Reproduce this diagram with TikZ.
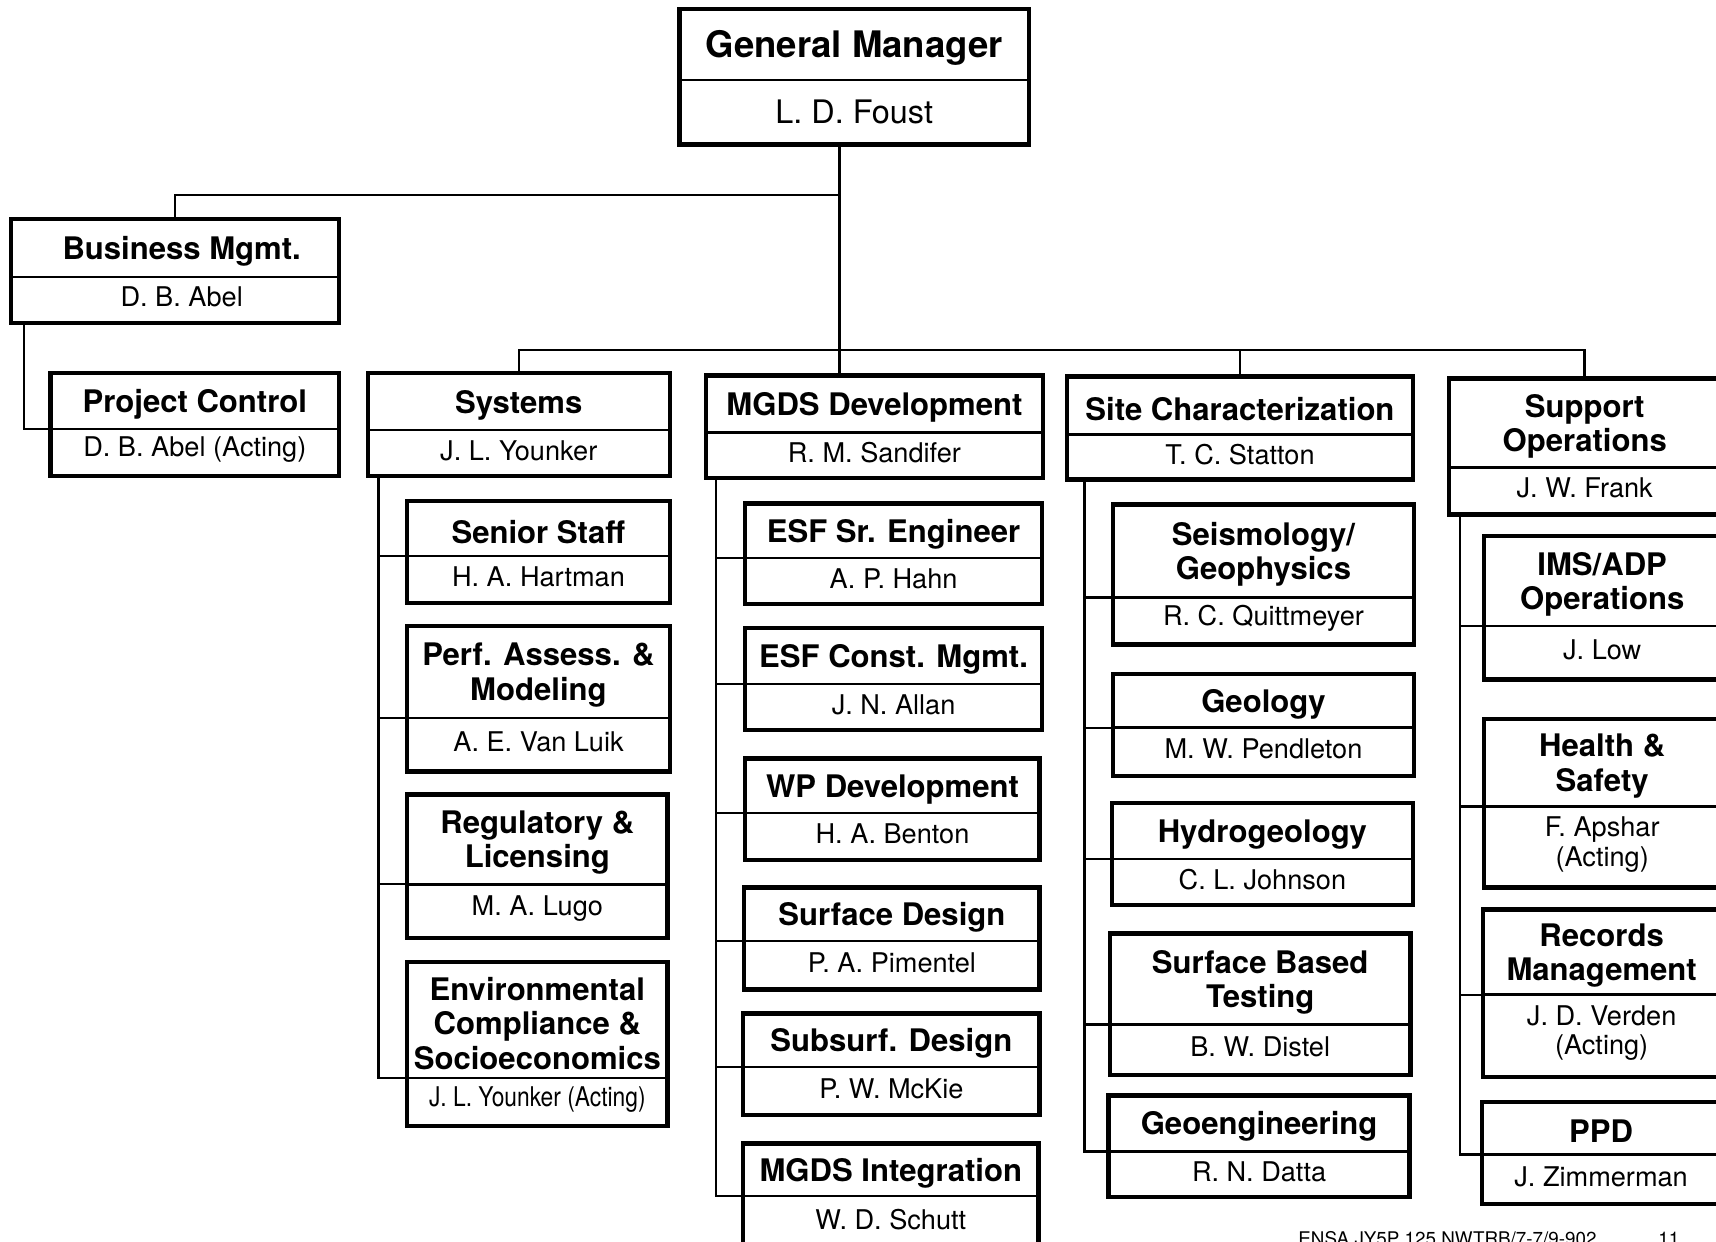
\documentclass[tikz,border=0pt]{standalone}
\usepackage{fontspec}
\setmainfont{TeX Gyre Heros}
\usetikzlibrary{fit,calc}
\tikzset{
  obox/.style={draw, line width=2pt, inner sep=0pt, rectangle},
  divline/.style={line width=1.2pt},
  conn/.style={line width=1.1pt},
  ttl/.style={font=\bfseries\fontsize{14.2}{15.8}\selectfont, align=center, inner sep=0pt, yshift=-1.5pt},
  nme/.style={font=\fontsize{12.4}{13.5}\selectfont, align=center, inner sep=0pt, yshift=1.2pt},
  ttlgm/.style={font=\bfseries\fontsize{16.7}{18}\selectfont, align=center, inner sep=0pt, yshift=-1.5pt},
  nmegm/.style={font=\fontsize{14.8}{16}\selectfont, align=center, inner sep=0pt},
  foot/.style={font=\fontsize{8.6}{10}\selectfont, inner sep=0pt, anchor=base west}
}
% #1 style suffix, #2 name, #3 x1, #4 y1, #5 x2, #6 y2, #7 divider y, #8 title, #9 person
\newcommand\orgbox[9][]{%
  \node[obox, fit={(#3,#4) (#5,#6)}] (#2) {};
  \coordinate (#2d) at (#3,#7);
  \draw[divline] (#3,#7) -- (#5,#7);
  \node[ttl#1] (#2t) at ({(#3+#5)/2},{(#4+#7)/2}) {#8};
  \node[nme#1] (#2n) at ({(#3+#5)/2},{(#7+#6)/2}) {#9};
}
\begin{document}
\begin{tikzpicture}[x=0.5pt, y=-0.5pt]
\useasboundingbox (0,0) rectangle (1568,1134);
\fill[white] (0,0) rectangle (1568,1134);

% top level
\orgbox[gm]{gm}{621}{8}{940}{132}{73}{General Manager}{L. D. Foust}
\orgbox{bus}{10}{200}{310}{295}{253}{\hspace*{6pt}Business Mgmt.}{\hspace*{6pt}D. B. Abel}
\orgbox{pc}{46}{341}{310}{435}{392}{Project Control}{D. B. Abel (Acting)}
\orgbox{sys}{336}{341}{612}{435}{393}{Systems}{J. L. Younker}
\orgbox{mgds}{645}{343}{953}{437}{395}{MGDS Development}{R. M. Sandifer}
\orgbox{site}{975}{344}{1291}{438}{397}{Site Characterization}{T. C. Statton}
\orgbox{sup}{1324}{346}{1572}{470}{427}{Support\\Operations}{J. W. Frank}

% Systems
\orgbox{ss}{372}{458}{612}{551}{508}{Senior Staff}{H. A. Hartman}
\orgbox{pa}{372}{572}{612}{705}{656}{Perf. Assess. \&\\Modeling}{A. E. Van Luik}
\orgbox{rl}{372}{726}{610}{857}{808}{Regulatory \&\\Licensing}{M. A. Lugo}
\orgbox{ec}{372}{879}{610}{1029}{985}{Environmental\\Compliance \&\\Socioeconomics}{\scalebox{0.84}[1]{J. L. Younker (Acting)}}

% MGDS Development
\orgbox{esfe}{681}{460}{952}{552}{510}{ESF Sr. Engineer}{A. P. Hahn}
\orgbox{esfc}{681}{574}{952}{667}{625}{ESF Const. Mgmt.}{J. N. Allan}
\orgbox{wp}{681}{693}{950}{786}{743}{WP Development}{H. A. Benton}
\orgbox{sd}{680}{811}{950}{904}{860}{Surface Design}{P. A. Pimentel}
\orgbox{sub}{679}{926}{950}{1019}{975}{Subsurf. Design}{P. W. McKie}
\orgbox{mi}{679}{1045}{949}{1140}{1093}{MGDS Integration}{W. D. Schutt}

% Site Characterization
\orgbox{seis}{1017}{461}{1292}{589}{546}{Seismology/\\Geophysics}{R. C. Quittmeyer}
\orgbox{geo}{1017}{616}{1292}{709}{665}{Geology}{M. W. Pendleton}
\orgbox{hyd}{1016}{734}{1291}{827}{785}{Hydrogeology}{C. L. Johnson}
\orgbox{sbt}{1014}{853}{1289}{982}{936}{Surface Based\\Testing}{B. W. Distel}
\orgbox{geoe}{1013}{1001}{1288}{1094}{1052}{Geoengineering}{R. N. Datta}

% Support Operations
\orgbox{ims}{1356}{490}{1572}{621}{572}{IMS/ADP\\Operations}{J. Low}
\orgbox{hs}{1356}{657}{1572}{811}{737}{Health \&\\Safety}{F. Apshar\\(Acting)}
\orgbox{rm}{1355}{831}{1572}{984}{909}{Records\\Management}{J. D. Verden\\(Acting)}
\orgbox{ppd}{1354}{1007}{1572}{1100}{1055}{PPD}{J. Zimmerman}

% connectors: top
\coordinate (j1) at (767,178);
\coordinate (j2) at (767,320);
\draw[conn] (gm.south -| j1) -- (j2);
\draw[conn] (j1) -| (bus.north);
\draw[conn] (sys.north) |- (j2) -| (sup.north);
\draw[conn] (j2) -- (j2 |- mgds.north);
\draw[conn] (site.north |- j2) -- (site.north);

% Business -> Project Control
\coordinate (bustr) at ($(bus.south west)+(14,0)$);
\draw[conn] (bustr) |- (pcd);

% Systems trunk
\coordinate (systr) at ($(sys.south west)+(12,0)$);
\draw[conn] (systr) |- (ecd);
\foreach \c in {ssd,pad,rld} \draw[conn] (systr |- \c) -- (\c);

% MGDS trunk
\coordinate (mgdstr) at ($(mgds.south west)+(11,0)$);
\draw[conn] (mgdstr) |- (mid);
\foreach \c in {esfed,esfcd,wpd,sdd,subd} \draw[conn] (mgdstr |- \c) -- (\c);

% Site trunk
\coordinate (sitetr) at ($(site.south west)+(18,0)$);
\draw[conn] (sitetr) |- (geoed);
\foreach \c in {seisd,geod,hydd,sbtd} \draw[conn] (sitetr |- \c) -- (\c);

% Support trunk
\coordinate (suptr) at ($(sup.south west)+(12,0)$);
\draw[conn] (suptr) |- (ppdd);
\foreach \c in {imsd,hsd,rmd} \draw[conn] (suptr |- \c) -- (\c);

% footer
\node[foot] (footid) at (1186,1138) {ENSA JY5P 125 NWTRB/7-7/9-902};
\node[foot] (footpg) at (1515,1138) {11};
\end{tikzpicture}
\end{document}
